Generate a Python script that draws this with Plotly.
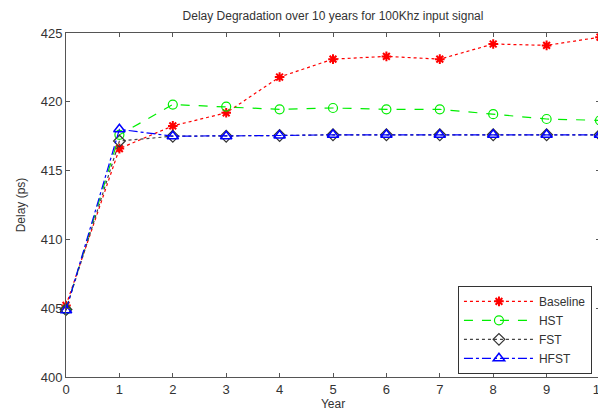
import plotly.graph_objects as go

years = [0, 1, 2, 3, 4, 5, 6, 7, 8, 9, 10]
baseline = [405.2, 416.6, 418.25, 419.2, 421.8, 423.1, 423.3, 423.1, 424.2, 424.1, 424.7]
hst = [404.9, 417.6, 419.8, 419.65, 419.45, 419.55, 419.45, 419.45, 419.1, 418.75, 418.65]
fst = [404.9, 417.15, 417.5, 417.5, 417.55, 417.6, 417.6, 417.6, 417.6, 417.6, 417.6]
hfst = [404.85, 418.0, 417.5, 417.5, 417.55, 417.6, 417.6, 417.6, 417.6, 417.6, 417.6]
x_ticks = [0, 1, 2, 3, 4, 5, 6, 7, 8, 9, 10]
y_ticks = [400, 405, 410, 415, 420, 425]

FONT = "Liberation Sans, Arial"
TXT = "#333333"

fig = go.Figure()
fig.add_trace(go.Scatter(x=years, y=baseline, name="Baseline", mode="lines+markers", cliponaxis=False,
                         line=dict(color="#ff0000", dash="dot", width=1.2),
                         marker=dict(symbol="asterisk-open", size=8, color="#ff0000",
                                     line=dict(color="#ff0000", width=2))))
fig.add_trace(go.Scatter(x=years, y=hst, name="HST", mode="lines+markers", cliponaxis=False,
                         line=dict(color="#00ee00", dash="dash", width=1.2),
                         marker=dict(symbol="circle-open", size=9, color="#00ee00",
                                     line=dict(color="#00ee00", width=1.2))))
fig.add_trace(go.Scatter(x=years, y=fst, name="FST", mode="lines+markers", cliponaxis=False,
                         line=dict(color="#444444", dash="dot", width=1.2),
                         marker=dict(symbol="diamond-open", size=9, color="#333333",
                                     line=dict(color="#333333", width=1.2))))
fig.add_trace(go.Scatter(x=years, y=hfst, name="HFST", mode="lines+markers", cliponaxis=False,
                         line=dict(color="#0000ff", dash="dashdot", width=1.2),
                         marker=dict(symbol="triangle-up-open", size=10, color="#0000ff",
                                     line=dict(color="#0000ff", width=1.5))))

axis_common = dict(showline=True, linecolor="#555555", linewidth=1, mirror="ticks",
                   ticks="inside", ticklen=4, tickcolor="#555555", showgrid=False,
                   zeroline=False, tickfont=dict(family=FONT, size=13, color=TXT))

fig.update_layout(
    width=598, height=404,
    margin=dict(l=58, r=6, t=25, b=35, autoexpand=False),
    paper_bgcolor="white", plot_bgcolor="white",
    title=dict(text="Delay Degradation over 10 years for 100Khz input signal",
               x=0.5, xanchor="center", xref="paper", y=0.99, yanchor="top",
               font=dict(family=FONT, size=12, color=TXT)),
    xaxis=dict(range=[0, 10], tickvals=x_ticks, ticklabeloverflow="allow",
               title=dict(text="Year", standoff=2, font=dict(family=FONT, size=12, color=TXT)),
               **axis_common),
    yaxis=dict(range=[400, 425], tickvals=y_ticks,
               title=dict(text="Delay (ps)", standoff=12, font=dict(family=FONT, size=12, color=TXT)),
               **axis_common),
    legend=dict(x=0.734, y=0.265, xanchor="left", yanchor="top",
                bordercolor="#333333", borderwidth=1, bgcolor="white",
                font=dict(family=FONT, size=12, color=TXT),
                tracegroupgap=0, itemwidth=70),
    showlegend=True,
)

fig.write_html("out.html")
